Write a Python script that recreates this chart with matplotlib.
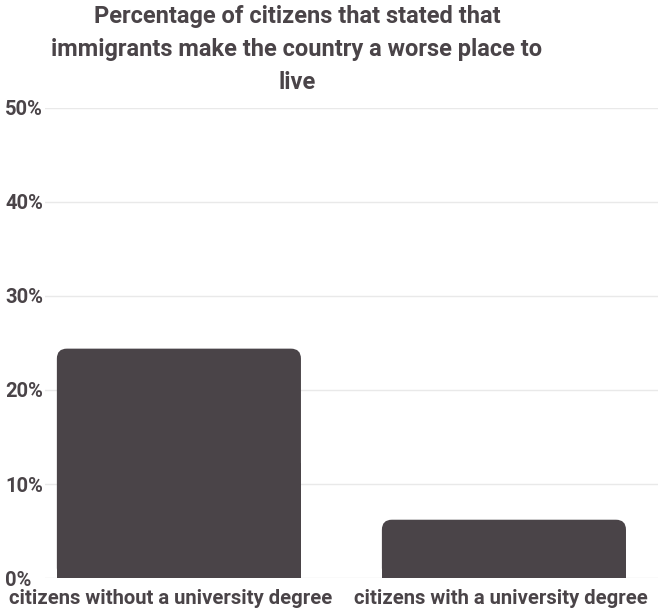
import matplotlib
matplotlib.use('Agg')
import matplotlib.pyplot as plt
import matplotlib.transforms as mtransforms
from matplotlib.patches import FancyBboxPatch, Rectangle

categories = ['citizens without a university degree', 'citizens with a university degree']
values = [24.4, 6.2]
yticks = [0, 10, 20, 30, 40, 50]
title = 'Percentage of citizens that stated that\nimmigrants make the country a worse place to\nlive'

dark = '#4a4448'
plt.rcParams['font.family'] = ['Roboto', 'DejaVu Sans']

W, H = 658, 612
fig = plt.figure(figsize=(W / 100, H / 100), dpi=100)
ax = fig.add_axes([45 / W, 34 / H, 613 / W, 470 / H])

x = range(len(categories))
bars = ax.bar(x, values, width=0.751, color=dark, zorder=2)
ax.set_xlim(-0.412, 1.474)
ax.set_ylim(0, 50)

# rounded top corners: swap each bar for a rounded box + plain lower half
px_x = 325.0   # pixels per x unit
px_y = 9.4     # pixels per y unit
r = 10 / px_x
for b in bars:
    bx, bw, bh = b.get_x(), b.get_width(), b.get_height()
    b.set_visible(False)
    ax.add_patch(FancyBboxPatch((bx, 0), bw, bh, boxstyle='round,pad=0,rounding_size=%f' % r,
                                mutation_aspect=px_x / px_y, fc=dark, ec='none', zorder=2))
    ax.add_patch(Rectangle((bx, 0), bw, bh / 2, fc=dark, ec='none', zorder=2))

ax.set_yticks(yticks)
ax.set_yticklabels(['%d%%' % t for t in yticks], ha='left')
ax.set_xticks(list(x))
ax.set_xticklabels(categories)
ax.tick_params(axis='y', length=0, pad=28.8, labelsize=14.5, labelcolor=dark)
ax.tick_params(axis='x', length=0, pad=8, labelsize=14.6, labelcolor=dark)
for lab in ax.get_xticklabels() + ax.get_yticklabels():
    lab.set_fontweight('bold')
# first label sits a little left of its bar in the reference
xl = ax.get_xticklabels()
xl[0].set_transform(xl[0].get_transform() + mtransforms.ScaledTranslation(-8 / 100, 0, fig.dpi_scale_trans))
xl[1].set_transform(xl[1].get_transform() + mtransforms.ScaledTranslation(-3 / 100, 0, fig.dpi_scale_trans))

ax.grid(axis='y', color='#e9e9e9', linewidth=1, zorder=0)
for s in ax.spines.values():
    s.set_visible(False)

fig.text(297 / W, 1 - 5 / H, title, ha='center', va='top', fontsize=17, fontweight='bold',
         color=dark, linespacing=1.56)

fig.savefig('out.png', dpi=100, facecolor='white')
